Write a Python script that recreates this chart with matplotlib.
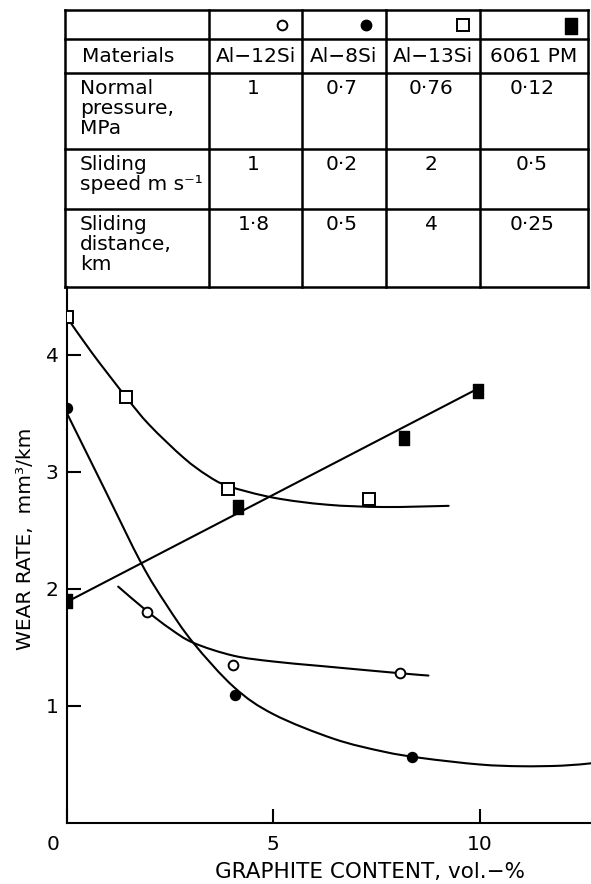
import matplotlib
matplotlib.use("Agg")
import matplotlib.pyplot as plt
from matplotlib.path import Path
from matplotlib.patches import PathPatch
from matplotlib.transforms import ScaledTranslation

plt.rcParams['font.family'] = ['DejaVu Sans']

# ---------------- data ----------------
# markers
al12_x = [1.94, 4.03, 8.06]
al12_y = [1.80, 1.35, 1.28]
al8_x = [0.0, 4.08, 8.37]
al8_y = [3.55, 1.09, 0.56]
al13_x = [0.0, 1.43, 3.9, 7.33]
al13_y = [4.32, 3.64, 2.85, 2.77]
pm_x = [0.0, 4.15, 8.16, 9.95]
pm_y = [1.90, 2.70, 3.29, 3.69]

# hand-drawn trend curves
al12_cx = [1.24, 1.94, 2.5, 3.06, 4.03, 5.0, 6.2, 8.06, 8.76]
al12_cy = [2.02, 1.81, 1.66, 1.54, 1.43, 1.38, 1.34, 1.28, 1.26]
al8_cx = [0.0, 0.9, 1.8, 2.4, 3.06, 4.05, 5.0, 6.46, 7.67, 8.6, 10.0, 11.0, 12.0, 12.7]
al8_cy = [3.50, 2.86, 2.22, 1.87, 1.54, 1.16, 0.93, 0.72, 0.61, 0.555, 0.50, 0.485, 0.49, 0.51]
al13_cx = [0.0, 0.6, 1.43, 2.0, 2.83, 3.4, 3.9, 5.0, 6.3, 7.67, 9.25]
al13_cy = [4.32, 4.02, 3.64, 3.40, 3.12, 2.97, 2.88, 2.78, 2.72, 2.70, 2.71]
pm_cx = [0.0, 9.95]
pm_cy = [1.89, 3.71]

x_ticks = [0, 5, 10]
x_tick_labels = ['0', '5', '10']
y_ticks = [1, 2, 3, 4]
y_tick_labels = ['1', '2', '3', '4']

# table content
materials = ['Al\u221212Si', 'Al\u22128Si', 'Al\u221213Si', '6061 PM']
pressure = ['1', '0\u00b77', '0\u00b776', '0\u00b712']
speed = ['1', '0\u00b72', '2', '0\u00b75']
distance = ['1\u00b78', '0\u00b75', '4', '0\u00b725']
row_labels = ['Materials', 'Normal\npressure,\nMPa', 'Sliding\nspeed m s\u207b\u00b9', 'Sliding\ndistance,\nkm']

# ---------------- figure ----------------
W, H = 591, 884
fig = plt.figure(figsize=(W / 100, H / 100), dpi=100)

ax_left, ax_right, ax_top, ax_bot = 67, 591, 287, 823
ax = fig.add_axes([ax_left / W, (H - ax_bot) / H, (ax_right - ax_left) / W, (ax_bot - ax_top) / H])
ax.set_xlim(0, 12.7)
ax.set_ylim(0, 4.58)
for s in ['top', 'right']:
    ax.spines[s].set_visible(False)
for s in ['left', 'bottom']:
    ax.spines[s].set_linewidth(1.5)

lw = 1.5


def smooth_curve(axis, xs, ys):
    """Draw a smooth (Catmull-Rom style Bezier) curve through the read points."""
    pts = list(zip(xs, ys))
    verts = [pts[0]]
    codes = [Path.MOVETO]
    n = len(pts)
    for i in range(n - 1):
        p0 = pts[i - 1] if i > 0 else pts[i]
        p1 = pts[i]
        p2 = pts[i + 1]
        p3 = pts[i + 2] if i + 2 < n else pts[i + 1]
        c1 = (p1[0] + (p2[0] - p0[0]) / 6, p1[1] + (p2[1] - p0[1]) / 6)
        c2 = (p2[0] - (p3[0] - p1[0]) / 6, p2[1] - (p3[1] - p1[1]) / 6)
        verts += [c1, c2, p2]
        codes += [Path.CURVE4] * 3
    axis.add_patch(PathPatch(Path(verts, codes), fill=False, edgecolor='black',
                             lw=lw, capstyle='round', joinstyle='round', zorder=3))


smooth_curve(ax, al12_cx, al12_cy)
smooth_curve(ax, al8_cx, al8_cy)
smooth_curve(ax, al13_cx, al13_cy)
ax.plot(pm_cx, pm_cy, color='black', lw=lw, solid_capstyle='round', zorder=3)

rect = Path([(-0.38, -0.5), (0.38, -0.5), (0.38, 0.5), (-0.38, 0.5), (-0.38, -0.5)],
            [Path.MOVETO, Path.LINETO, Path.LINETO, Path.LINETO, Path.CLOSEPOLY])
ms = 8
ax.plot(al12_x, al12_y, 'o', ms=ms - 1, mfc='white', mec='black', mew=1.4, zorder=5)
ax.plot(al8_x, al8_y, 'o', ms=ms - 1, mfc='black', mec='black', mew=1.2, zorder=5)
ax.plot(al13_x, al13_y, 's', ms=ms, mfc='white', mec='black', mew=1.4, zorder=5)
ax.plot(pm_x, pm_y, marker=rect, ls='none', ms=ms + 2, mfc='black', mec='black', mew=1.0, zorder=5)

ax.set_xticks(x_ticks)
ax.set_xticklabels(x_tick_labels)
ax.set_yticks(y_ticks)
ax.set_yticklabels(y_tick_labels)
ax.tick_params(direction='in', length=10, width=1.5, labelsize=14.5, pad=6)
ax.tick_params(axis='x', pad=9)
lbl0 = ax.get_xticklabels()[0]
lbl0.set_transform(lbl0.get_transform() + ScaledTranslation(-10 / 72, 0, fig.dpi_scale_trans))

ax.set_xlabel('GRAPHITE CONTENT, vol.\u2212%', fontsize=15.5)
ax.xaxis.set_label_coords(0.578, -0.072)
ax.set_ylabel('WEAR RATE,  mm\u00b3/km', fontsize=14.5)
ax.yaxis.set_label_coords(-0.062, 0.53)

# ---------------- table overlay ----------------
tx = fig.add_axes([0, 0, 1, 1], zorder=3)
tx.set_xlim(0, W)
tx.set_ylim(H, 0)
tx.axis('off')
tx.patch.set_alpha(0)

col_x = [65, 209, 302, 386, 480, 588]
row_y = [10, 39, 73, 149, 209, 287]
for yv in row_y:
    tx.plot([col_x[0], col_x[-1]], [yv, yv], color='black', lw=1.8, solid_capstyle='projecting')
for xv in col_x:
    tx.plot([xv, xv], [row_y[0], row_y[-1]], color='black', lw=1.8, solid_capstyle='projecting')

fs = 14.5
# header markers
hy = 25
tx.plot([282], [hy], 'o', ms=7, mfc='white', mec='black', mew=1.4)
tx.plot([366], [hy], 'o', ms=7.5, mfc='black', mec='black')
tx.plot([463], [hy], 's', ms=8, mfc='white', mec='black', mew=1.4)
tx.plot([571], [hy + 1], marker=rect, ms=12, mfc='black', mec='black')

# row labels
tx.text(82, (row_y[1] + row_y[2]) / 2, row_labels[0], fontsize=fs, va='center', ha='left')
for i, lab in enumerate(row_labels[1:]):
    tx.text(80, row_y[i + 2] + 6, lab, fontsize=fs, va='top', ha='left', linespacing=1.05)

centers = [(col_x[j + 1] + col_x[j + 2]) / 2 for j in range(4)]
for j, m in enumerate(materials):
    tx.text(centers[j], (row_y[1] + row_y[2]) / 2, m, fontsize=fs, va='center', ha='center')
for r, vals in zip([2, 3, 4], [pressure, speed, distance]):
    for j, v in enumerate(vals):
        tx.text(centers[j] - 2, row_y[r] + 6, v, fontsize=fs, va='top', ha='center')

fig.savefig('out.png', dpi=100)
